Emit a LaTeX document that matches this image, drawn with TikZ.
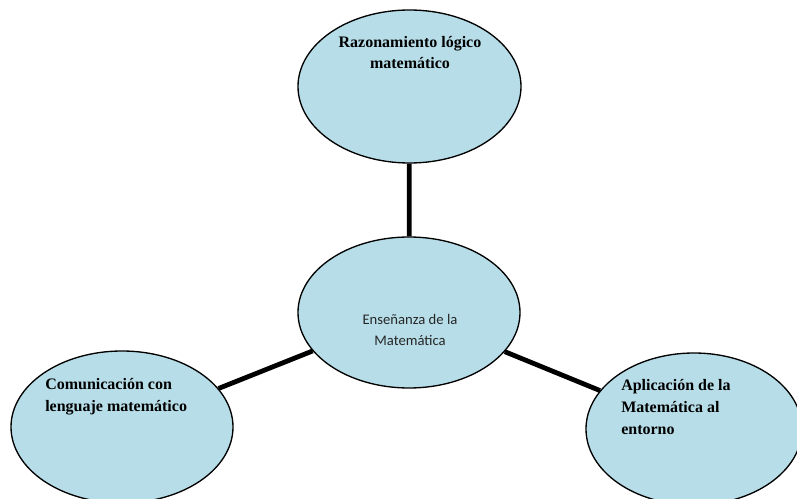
\documentclass[tikz,border=0pt]{standalone}
\usepackage{fontspec}
\setmainfont{Liberation Serif}
\newfontfamily\calibri{Carlito}
\usetikzlibrary{shapes.geometric,backgrounds}
\definecolor{bubblefill}{HTML}{B7DEE8}
\begin{document}
\begin{tikzpicture}[x=0.75pt,y=-0.75pt,
  bubble/.style={ellipse, draw=black, line width=1pt, fill=bubblefill, inner sep=0pt},
  spoke/.style={line width=3.6pt, draw=black},
  caption/.style={font=\bfseries\fontsize{12pt}{16.2pt}\selectfont, inner sep=0pt, text=black},
  centretext/.style={font=\calibri\fontsize{11pt}{15.6pt}\selectfont, inner sep=0pt, text=black!85},
]
\useasboundingbox (0,0) rectangle (797,499);
\clip (0,0) rectangle (797,499);

% the four bubbles
\node[bubble, minimum width=167.25pt, minimum height=114.75pt] (razon)  at (409.5,86.5) {};
\node[bubble, minimum width=166.5pt,  minimum height=113.25pt] (centro) at (409,312.5) {};
\node[bubble, minimum width=166.5pt,  minimum height=114pt]    (comun)  at (122,427) {};
\node[bubble, minimum width=162pt,    minimum height=114pt]    (aplic)  at (694,429) {};

% spokes from the central bubble
\begin{scope}[on background layer]
  \draw[spoke] (centro) -- (razon);
  \draw[spoke] (centro) -- (comun);
  \draw[spoke] (centro) -- (aplic);
\end{scope}

% captions (base anchor sits on the last line)
\node[caption, align=center, anchor=base] (trazon) at (410,69) {Razonamiento lógico\\matemático};
\node[centretext, align=center, anchor=base] (tcentro) at (410,345.5) {Enseñanza de la\\Matemática};
\node[caption, align=left, anchor=base west] (tcomun) at (45,411.5) {Comunicación con\\lenguaje matemático};
\node[caption, align=left, anchor=base west] (taplic) at (621,434) {Aplicación de la\\Matemática al\\entorno};
\end{tikzpicture}
\end{document}
